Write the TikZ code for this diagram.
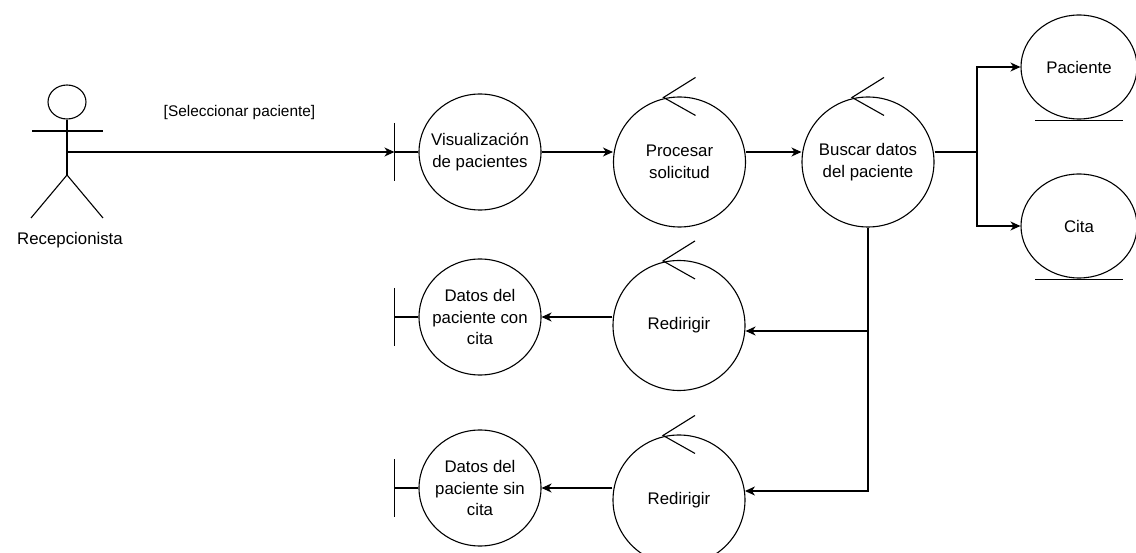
\documentclass[tikz,border=0pt]{standalone}
\usepackage{fontspec}
\setmainfont{Liberation Sans}
\usetikzlibrary{shapes.geometric,arrows.meta,calc}

% control object marker: small open arrow head on top of the circle
\newcommand\ctlmark[1]{%
  \draw ($(#1.north)+(16,-19)$) -- ($(#1.north)+(-16,1)$) -- ($(#1.north)+(16,19)$);}
% boundary object: stem and vertical bar on the left side
\newcommand\bndbar[1]{%
  \draw (#1.west) -- ++(-24,0) coordinate (#1-b);
  \draw ($(#1-b)+(0,-29)$) -- ($(#1-b)+(0,29)$);}
% entity object: line under the circle
\newcommand\entline[1]{%
  \draw ($(#1.south)+(-44,1)$) -- ($(#1.south)+(44,1)$);}

\begin{document}
\begin{tikzpicture}[x=1pt,y=-1pt,line width=1.1pt,
  every node/.style={font=\fontsize{16.8}{21.5}\selectfont,text=black},
  obj/.style={ellipse,draw,inner sep=0pt},
  bnd/.style={obj,minimum width=122pt,minimum height=116pt},
  ctl/.style={obj,minimum width=132pt,minimum height=130pt},
  ent/.style={obj,minimum width=116pt,minimum height=104pt},
  txt/.style={align=center,inner sep=0pt},
  flow/.style={-{Stealth[length=10pt,width=9pt,inset=3pt]}},
  lbl/.style={font=\fontsize{15.4}{18}\selectfont}
]
\useasboundingbox (0,0) rectangle (1136,553);

% actor
\node[ellipse,draw,minimum width=38pt,minimum height=34pt,inner sep=0pt] (head) at (67,102) {};
\coordinate (hip) at (67,175);
\coordinate (armL) at (32,131);
\coordinate (armR) at (103,131);
\coordinate (footL) at (31,218);
\coordinate (footR) at (103,218);
\coordinate (torso) at (67,152);
\draw (head.south) -- (hip);
\draw (armL) -- (armR);
\draw (footL) -- (hip) -- (footR);
\node (actor) at (70,240) {Recepcionista};

% boundary objects
\node[bnd] (vis)  at (480,152) {};
\node[bnd] (dcon) at (480,317) {};
\node[bnd] (dsin) at (480,488) {};
\node[txt] (vis-t)  at (vis)  {Visualización\\de pacientes};
\node[txt] (dcon-t) at (dcon) {Datos del\\paciente con\\cita};
\node[txt] (dsin-t) at (dsin) {Datos del\\paciente sin\\cita};
\bndbar{vis}
\bndbar{dcon}
\bndbar{dsin}

% control objects
\node[ctl] (proc) at (679.5,162) {};
\node[ctl] (busc) at (868,162)   {};
\node[ctl] (red1) at (679,325.5) {};
\node[ctl] (red2) at (679,500)   {};
\node[txt] (proc-t) at (proc) {Procesar\\solicitud};
\node[txt] (busc-t) at (busc) {Buscar datos\\del paciente};
\node[txt] (red1-t) at (red1) {Redirigir};
\node[txt] (red2-t) at (red2) {Redirigir};
\ctlmark{proc}
\ctlmark{busc}
\ctlmark{red1}
\ctlmark{red2}

% entity objects
\node[ent] (pac)  at (1079,67)  {};
\node[ent] (cita) at (1079,226) {};
\node[txt] (pac-t)  at (pac)  {Paciente};
\node[txt] (cita-t) at (cita) {Cita};
\entline{pac}
\entline{cita}

% connectors
\draw[flow] (torso) -- (vis-b);
\node[lbl] (sel) at (239.5,113) {[Seleccionar paciente]};
\draw[flow] (vis.east) -- (vis.east -| proc.west);
\draw[flow] (proc.east |- vis.east) -- (busc.west |- vis.east);
\coordinate (split) at (977,152);
\draw (busc.east |- vis.east) -- (split);
\draw[flow] (split) |- (pac.west);
\draw[flow] (split) |- (cita.west);
\draw[flow] (busc.south) |- ($(red1.east)+(0,5.5)$);
\draw[flow] (busc.south) |- ($(red2.east)+(-0.6,-9)$);
\draw[flow] (red1.west |- dcon.east) -- (dcon.east);
\draw[flow] (red2.west |- dsin.east) -- (dsin.east);
\end{tikzpicture}
\end{document}
